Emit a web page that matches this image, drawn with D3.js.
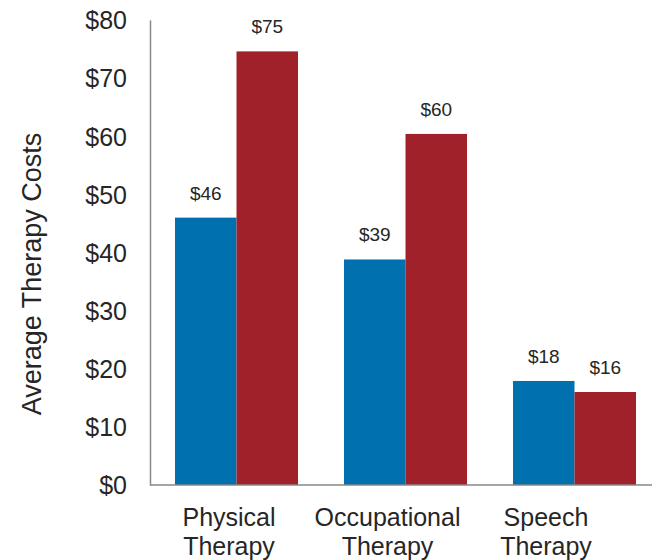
<!DOCTYPE html>
<html>
<head>
<meta charset="utf-8">
<script src="https://cdn.jsdelivr.net/npm/d3@7"></script>
<style>
  body { margin: 0; background: #fff; }
  text { font-family: "Liberation Sans", Arial, sans-serif; fill: #262626; }
</style>
</head>
<body>
<svg></svg>
<script>
var width = 652;
var height = 560;

// data
var categories = ["Physical Therapy", "Occupational Therapy", "Speech Therapy"];
var series = ["blue", "red"];
var blueValues = [46, 38.8, 17.9];
var redValues = [74.6, 60.4, 16];
var blueLabels = ["$46", "$39", "$18"];
var redLabels = ["$75", "$60", "$16"];
var yTicks = [0, 10, 20, 30, 40, 50, 60, 70, 80];
var colors = {blue: "#0070ae", red: "#a0212a"};

var svg = d3.select("svg")
    .attr("width", width)
    .attr("height", height);

var y = d3.scaleLinear()
    .domain([0, 80])
    .range([485, 20]);

var x = d3.scaleBand()
    .domain(categories)
    .range([152, 659])
    .paddingInner(0.272)
    .paddingOuter(0.136);

var xSub = d3.scaleBand()
    .domain(series)
    .range([0, x.bandwidth()]);

// category labels sit a bit left of the groups in the original
var xLabel = d3.scalePoint()
    .domain(categories)
    .range([229, 546]);

// build rows for the grouped bars
var rows = [];
categories.forEach(function(c, i) {
  rows.push({cat: c, s: "blue", v: blueValues[i], label: blueLabels[i]});
  rows.push({cat: c, s: "red", v: redValues[i], label: redLabels[i]});
});

var g = svg.append("g");

g.selectAll(".bar")
  .data(rows)
  .enter().append("rect")
    .attr("class", "bar")
    .attr("x", function(d) { return x(d.cat) + xSub(d.s); })
    .attr("y", function(d) { return y(d.v); })
    .attr("width", xSub.bandwidth())
    .attr("height", function(d) { return y(0) - y(d.v); })
    .style("fill", function(d) { return colors[d.s]; });

g.selectAll(".val")
  .data(rows)
  .enter().append("text")
    .attr("class", "val")
    .attr("x", function(d) { return x(d.cat) + xSub(d.s) + xSub.bandwidth() / 2; })
    .attr("y", function(d) { return y(d.v) - 18; })
    .attr("text-anchor", "middle")
    .style("font-size", "19px")
    .text(function(d) { return d.label; });

// y axis
var yAxis = d3.axisLeft(y)
    .tickValues(yTicks)
    .tickSize(0)
    .tickPadding(23)
    .tickFormat(function(d) { return "$" + d; });

var ya = svg.append("g")
    .attr("transform", "translate(150,0)")
    .call(yAxis);
ya.select(".domain").attr("stroke", "#888").attr("stroke-width", 1.5);
ya.selectAll("text")
    .style("font-size", "25px")
    .attr("dy", "0.35em");

// baseline to the right edge
svg.append("line")
    .attr("x1", 150).attr("x2", width)
    .attr("y1", y(0)).attr("y2", y(0))
    .attr("stroke", "#888")
    .attr("stroke-width", 1.5);

// category labels on two lines
var xa = svg.append("g");
categories.forEach(function(c) {
  var words = c.split(" ");
  var t = xa.append("text")
      .attr("text-anchor", "middle")
      .style("font-size", "25px");
  words.forEach(function(w, j) {
    t.append("tspan")
      .attr("x", xLabel(c))
      .attr("y", 526 + j * 29)
      .text(w);
  });
});

// y title
svg.append("text")
    .attr("transform", "translate(41,274) rotate(-90)")
    .attr("text-anchor", "middle")
    .style("font-size", "27px")
    .text("Average Therapy Costs");
</script>
</body>
</html>
